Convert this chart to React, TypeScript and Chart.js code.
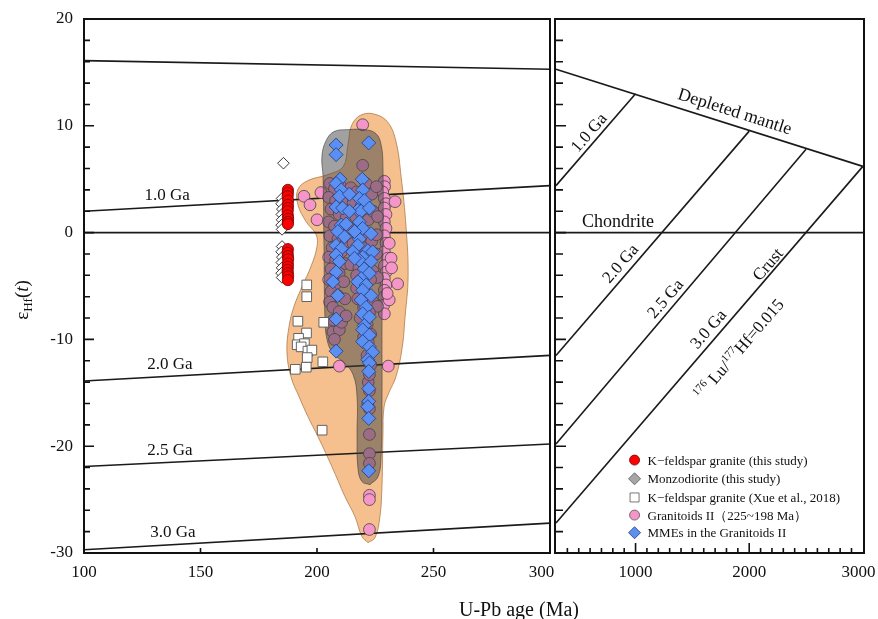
import React, { useEffect, useRef } from 'react';
import { Chart, registerables } from 'chart.js';

Chart.register(...registerables);

const SERIF = "'Liberation Serif', 'Times New Roman', serif";

// ---------- point data: [U-Pb age (Ma), εHf(t)] ----------
const kfsGraniteThisStudy: [number, number][] = [
  [187.5, 4.0], [187.5, 3.7], [187.4, 3.4], [187.6, 3.0], [187.5, 2.6], [187.5, 2.3], [187.4, 2.0],
  [187.5, 1.6], [187.6, 1.3], [187.5, 1.0], [187.5, 0.8],
  [187.5, -1.55], [187.4, -1.9], [187.5, -2.2], [187.6, -2.5], [187.5, -2.9], [187.5, -3.2],
  [187.4, -3.5], [187.5, -3.8], [187.6, -4.1], [187.5, -4.45],
];

const monzodioriteThisStudy: [number, number][] = [
  [185.6, 6.5], [185.0, 3.2], [184.8, 2.7], [185.1, 2.2], [184.9, 1.7], [185.0, 1.2], [184.8, 0.7],
  [185.0, 0.3], [185.0, -1.3], [184.8, -1.8], [185.1, -2.3], [184.9, -2.8], [185.0, -3.3],
  [184.8, -3.8], [185.0, -4.2],
];

const kfsGraniteXue2018: [number, number][] = [
  [195.6, -4.9], [195.6, -6.0], [191.8, -8.3], [202.9, -8.4], [195.5, -9.4], [192.1, -9.9],
  [191.5, -10.5], [194.6, -10.4], [193.2, -10.7], [196.1, -11.1], [197.8, -11.0], [195.8, -11.7],
  [202.5, -12.1], [195.4, -12.6], [190.7, -12.8], [202.2, -18.5],
];

const granitoidsII: [number, number][] = [
  [219.6, 10.1], [219.6, 6.3],
  [194.4, 3.4], [197.0, 2.6], [201.7, 3.75], [200.0, 1.2],
  [228.9, 4.8], [229.0, 4.3], [228.2, 3.8], [228.9, 3.2], [229.6, 2.7], [228.9, 2.3], [229.6, 1.7],
  [228.9, 1.0], [229.6, 0.4], [228.9, -0.3], [229.6, -1.0], [228.9, -1.8], [230.3, -2.4],
  [228.9, -3.1], [229.6, -3.7], [228.9, -4.3], [229.6, -4.9], [228.9, -5.4], [228.9, -6.0],
  [228.6, -6.8], [228.9, -7.6],
  [233.5, 2.9], [231.0, -1.0], [231.8, -2.4], [234.6, -4.8], [231.0, -6.3], [230.1, -5.7],
  [232.0, -3.3], [230.6, -12.5], [209.6, -12.5],
  [222.5, -24.6], [222.5, -25.0], [222.5, -27.8],
  [222.5, -18.9], [222.5, -20.7], [222.5, -21.6], [222.0, -14.0], [222.5, -13.3], [222.5, -16.5],
  [206.8, -9.3], [209.6, -9.1], [207.5, -10.0],
  [205.5, 4.6], [207.5, 4.1], [210.0, 4.4], [212.5, 3.6], [205.0, 3.3], [208.0, 3.0], [211.0, 2.8],
  [206.0, 2.2], [209.5, 1.7], [212.5, 1.4], [205.0, 1.0], [207.5, 0.6], [211.0, 0.3], [205.5, -0.3],
  [209.0, -0.6], [212.5, -0.9], [206.5, -1.4], [210.5, -1.8], [205.0, -2.3], [208.0, -2.6],
  [212.0, -2.9], [206.0, -3.4], [209.5, -3.8], [205.0, -4.4], [208.0, -4.8], [211.5, -4.6],
  [206.0, -5.5], [209.0, -5.9], [212.0, -6.2], [205.4, -6.5], [206.8, -7.0], [209.5, -7.4],
  [207.0, -8.2], [210.5, -8.4], [212.5, -7.8],
  [214.5, 4.2], [217.0, 3.8], [221.0, 4.6], [223.5, 3.6], [225.5, 4.3], [215.5, 2.8], [219.0, 2.5],
  [222.0, 1.2], [216.5, 1.5], [224.0, 2.0], [226.0, 1.5], [214.0, 0.4], [218.0, 0.3], [220.5, -0.4],
  [223.5, -0.8], [225.5, -0.2], [215.5, -1.0], [219.5, -1.4], [216.5, -2.1], [222.5, -2.3],
  [225.5, -2.0], [214.5, -3.0], [218.0, -3.3], [221.0, -3.0], [224.0, -3.6], [226.0, -4.2],
  [217.0, -4.0], [219.5, -4.6], [223.0, -4.4], [217.0, -5.2], [221.5, -5.8], [217.5, -6.2],
  [224.0, -6.5], [226.0, -6.9], [220.0, -7.0], [222.5, -7.5], [218.5, -8.0], [221.5, -8.6],
  [223.0, -9.5], [220.0, -9.8], [222.0, -10.3], [221.5, -11.5], [223.0, -12.4], [222.5, -14.8],
  [221.8, -16.0],
];

const mmesGranitoidsII: [number, number][] = [
  [208.2, 8.2], [208.2, 7.3], [222.2, 8.4], [219.4, 5.0], [209.9, 5.0], [208.2, 4.6], [210.4, 4.0],
  [209.6, 3.4], [208.2, 2.4], [211.0, 2.3], [219.6, 4.0], [218.2, 3.2], [220.3, 3.0], [217.5, 2.1],
  [218.9, 2.0], [222.5, 2.3], [210.4, 0.7], [208.9, 0.1], [208.2, -1.2], [210.4, -1.5], [208.2, -2.1],
  [209.6, -2.7], [208.2, -3.7], [206.8, -4.6], [208.9, -5.9], [208.2, -8.1], [218.2, 1.0],
  [219.6, 0.4], [223.2, -0.1], [218.2, -0.6], [217.5, -1.2], [221.8, -1.7], [223.9, -1.8],
  [219.6, -2.3], [218.2, -2.6], [223.2, -2.7], [220.3, -3.4], [222.5, -3.8], [218.9, -4.3],
  [217.5, -4.6], [221.1, -4.9], [219.6, -5.4], [223.2, -5.9], [218.9, -6.3], [221.1, -7.0],
  [219.6, -7.6], [222.5, -7.9], [220.3, -8.7], [215.3, -1.8], [212.5, 0.8], [216.1, 0.1],
  [219.6, -9.1], [222.5, -9.6], [219.6, -10.2], [222.5, -10.7], [208.2, -11.1], [223.9, -11.2],
  [221.8, -11.9], [222.5, -12.2], [222.2, -13.0], [222.2, -14.6], [222.2, -15.8], [221.8, -16.3],
  [222.2, -17.4], [222.2, -22.3], [211.8, -0.4], [213.9, 2.0], [216.1, -2.4], [213.9, 3.6],
];

// ---------- field envelopes (outline vertices) ----------
const granitoidsEnvelope: [number, number][] = [
  [221.9, -29.03], [219.3, -28.46], [216.3, -26.59], [212.0, -24.72], [206.4, -21.91], [200.4, -19.1],
  [196.1, -17.23], [192.3, -15.36], [188.8, -13.48], [187.1, -11.14], [188.0, -8.8], [190.1, -6.93],
  [193.6, -5.06], [197.4, -3.18], [200.0, -1.31], [199.6, -0.19], [195.3, 1.03], [191.8, 2.62],
  [191.8, 4.03], [196.1, 4.87], [204.7, 5.43], [211.2, 6.18], [213.3, 8.24], [215.0, 10.11],
  [219.3, 11.05], [225.3, 11.05], [230.5, 10.3], [233.9, 8.52], [236.1, 5.24], [238.2, 0.56],
  [239.1, -4.12], [237.8, -7.87], [236.5, -10.86], [233.9, -13.48], [230.9, -14.98], [228.8, -16.29],
  [228.3, -18.91], [227.9, -23.6], [227.0, -26.59], [224.9, -28.56], [221.9, -29.03],
];

const mmesEnvelope: [number, number][] = [
  [222.7, -23.6], [219.3, -23.31], [217.6, -22.1], [217.2, -19.1], [217.2, -15.36], [215.5, -13.3],
  [211.6, -12.17], [206.9, -11.33], [204.3, -10.02], [203.4, -7.87], [203.0, -1.31], [202.6, 5.24],
  [202.1, 7.12], [203.9, 8.61], [207.3, 9.46], [213.3, 9.64], [220.6, 9.64], [225.3, 9.27],
  [227.5, 8.24], [228.3, 6.18], [228.3, -1.31], [227.9, -8.8], [227.9, -15.36], [227.5, -20.97],
  [226.2, -22.85], [222.7, -23.6],
];

// ---------- Hf evolution lines ----------
const leftAges = [100, 300];
const depletedMantleLeft = [16.1, 15.3];
const chondriteLeft = [0, 0];
const crust10Left = [2.0, 4.4];
const crust20Left = [-13.9, -11.5];
const crust25Left = [-21.9, -19.8];
const crust30Left = [-29.7, -27.2];

const depletedMantleRight: [number, number][] = [[300, 15.3], [3000, 6.2]];
const chondriteRight: [number, number][] = [[300, 0], [3010, 0]];
const crust10Right: [number, number][] = [[300, 4.4], [1000, 13.0]];
const crust20Right: [number, number][] = [[300, -11.5], [2000, 9.5]];
const crust25Right: [number, number][] = [[300, -19.8], [2500, 7.8]];
const crust30Right: [number, number][] = [[300, -27.2], [3000, 6.2]];

// ---------- ticks ----------
const leftAgeTicks = [100, 150, 200, 250, 300];
const rightAgeTicks = [1000, 2000, 3000];
const epsTicks = [-30, -20, -10, 0, 10, 20];

// ---------- annotations ----------
const leftLineLabels = [
  { text: '1.0 Ga', x: 135.7, y: 3.6 },
  { text: '2.0 Ga', x: 136.9, y: -12.2 },
  { text: '2.5 Ga', x: 136.9, y: -20.3 },
  { text: '3.0 Ga', x: 138.2, y: -28.0 },
];

const legendItems = [
  { label: 'K\u2212feldspar granite (this study)', shape: 'circle', fill: '#ff0000', stroke: '#6a0000' },
  { label: 'Monzodiorite (this study)', shape: 'diamond', fill: '#a6a6a6', stroke: '#555555' },
  { label: 'K\u2212feldspar granite (Xue et al., 2018)', shape: 'square', fill: '#ffffff', stroke: '#555555' },
  { label: 'Granitoids II\uFF08225~198 Ma\uFF09', shape: 'circle', fill: '#f595c8', stroke: '#555555' },
  { label: 'MMEs in the Granitoids II', shape: 'diamond', fill: '#5b8ff2', stroke: '#1f3b7a' },
];

type Part = { t: string; size: number; dy?: number; italic?: boolean };

function drawParts(ctx: CanvasRenderingContext2D, parts: Part[], cx: number, cy: number, angleDeg: number, baseSize: number) {
  ctx.save();
  ctx.translate(cx, cy);
  ctx.rotate((angleDeg * Math.PI) / 180);
  ctx.textBaseline = 'alphabetic';
  ctx.textAlign = 'left';
  ctx.fillStyle = '#111';
  const fontOf = (p: Part) => `${p.italic ? 'italic ' : ''}${p.size}px ${SERIF}`;
  const widths = parts.map((p) => {
    ctx.font = fontOf(p);
    return ctx.measureText(p.t).width;
  });
  const total = widths.reduce((a, b) => a + b, 0);
  let xx = -total / 2;
  const base = baseSize * 0.34;
  parts.forEach((p, i) => {
    ctx.font = fontOf(p);
    ctx.fillText(p.t, xx, base + (p.dy || 0));
    xx += widths[i];
  });
  ctx.restore();
}

const toXY = (arr: [number, number][]) => arr.map(([x, y]) => ({ x, y }));
const pairXY = (xs: number[], ys: number[]) => xs.map((x, i) => ({ x, y: ys[i] }));

const framePlugin = {
  id: 'frame',
  afterDraw(chart: any) {
    const { ctx, chartArea, scales } = chart;
    const x = scales.x;
    const x2 = scales.x2;
    const y = scales.y;
    const top = chartArea.top;
    const bottom = chartArea.bottom;
    const lx0 = x.getPixelForValue(100);
    const lx1 = x.getPixelForValue(300);
    const rx0 = x2.getPixelForValue(300) - 1;
    const rx1 = chartArea.right;

    ctx.save();
    ctx.strokeStyle = '#111';
    ctx.lineWidth = 1.6;
    ctx.beginPath();
    for (let v = -28; v < 20; v += 2) {
      const py = y.getPixelForValue(v);
      const major = v % 10 === 0;
      ctx.moveTo(lx0, py);
      ctx.lineTo(lx0 + (major ? 10 : 6), py);
      ctx.moveTo(rx0, py);
      ctx.lineTo(rx0 + (major ? 11 : 8), py);
    }
    [150, 200, 250].forEach((v) => {
      const px = x.getPixelForValue(v);
      ctx.moveTo(px, bottom);
      ctx.lineTo(px, bottom - 5);
    });
    for (let v = 400; v <= 2900; v += 100) {
      const px = x2.getPixelForValue(v);
      ctx.moveTo(px, bottom);
      ctx.lineTo(px, bottom - (v % 1000 === 0 ? 10 : 5));
    }
    ctx.stroke();

    ctx.lineWidth = 2;
    ctx.strokeStyle = '#111';
    ctx.strokeRect(lx0, top, lx1 - lx0, bottom - top);
    ctx.strokeRect(rx0, top, rx1 - rx0, bottom - top);

    leftLineLabels.forEach((l) => {
      drawParts(ctx, [{ t: l.text, size: 17 }], x.getPixelForValue(l.x), y.getPixelForValue(l.y), 0, 17);
    });

    const crustAng = (Math.atan2(
      y.getPixelForValue(crust20Right[1][1]) - y.getPixelForValue(crust20Right[0][1]),
      x2.getPixelForValue(crust20Right[1][0]) - x2.getPixelForValue(crust20Right[0][0])
    ) * 180) / Math.PI;
    const dmAng = (Math.atan2(
      y.getPixelForValue(depletedMantleRight[1][1]) - y.getPixelForValue(depletedMantleRight[0][1]),
      x2.getPixelForValue(depletedMantleRight[1][0]) - x2.getPixelForValue(depletedMantleRight[0][0])
    ) * 180) / Math.PI;
    const R = (vx: number, vy: number) => [x2.getPixelForValue(vx), y.getPixelForValue(vy)];
    let p = R(1875, 11.4);
    drawParts(ctx, [{ t: 'Depleted mantle', size: 18 }], p[0], p[1], dmAng, 18);
    p = R(586, 9.4);
    drawParts(ctx, [{ t: '1.0 Ga', size: 17 }], p[0], p[1], crustAng, 17);
    p = R(845, 1.1);
    drawParts(ctx, [{ t: 'Chondrite', size: 18 }], p[0], p[1], 0, 18);
    p = R(863, -2.86);
    drawParts(ctx, [{ t: '2.0 Ga', size: 17 }], p[0], p[1], crustAng, 17);
    p = R(1259, -6.15);
    drawParts(ctx, [{ t: '2.5 Ga', size: 17 }], p[0], p[1], crustAng, 17);
    p = R(1637, -9.0);
    drawParts(ctx, [{ t: '3.0 Ga', size: 17 }], p[0], p[1], crustAng, 17);
    p = R(2161, -2.95);
    drawParts(ctx, [{ t: 'Crust', size: 17 }], p[0], p[1], crustAng, 17);
    p = R(1910, -10.9);
    drawParts(ctx, [
      { t: '176', size: 11, dy: -7 },
      { t: ' Lu/', size: 17 },
      { t: '177', size: 11, dy: -7 },
      { t: 'Hf=0.015', size: 17 },
    ], p[0], p[1], crustAng, 17);

    const legX = x2.getPixelForValue(1000) - 1;
    const legRows = [-21.3, -23.05, -24.8, -26.45, -28.1];
    legendItems.forEach((it, i) => {
      const cy = y.getPixelForValue(legRows[i]);
      ctx.beginPath();
      if (it.shape === 'circle') {
        ctx.arc(legX, cy, 5, 0, Math.PI * 2);
      } else if (it.shape === 'diamond') {
        ctx.moveTo(legX - 6, cy);
        ctx.lineTo(legX, cy - 6);
        ctx.lineTo(legX + 6, cy);
        ctx.lineTo(legX, cy + 6);
        ctx.closePath();
      } else {
        ctx.rect(legX - 4.5, cy - 4.5, 9, 9);
      }
      ctx.fillStyle = it.fill;
      ctx.fill();
      ctx.lineWidth = 0.8;
      ctx.strokeStyle = it.stroke;
      ctx.stroke();
      ctx.fillStyle = '#111';
      ctx.font = `13px ${SERIF}`;
      ctx.textAlign = 'left';
      ctx.textBaseline = 'middle';
      ctx.fillText(it.label, legX + 13, cy + 1);
    });

    drawParts(ctx, [{ t: 'U-Pb age (Ma)', size: 20 }], 519, 609, 0, 20);
    drawParts(ctx, [
      { t: '\u03B5', size: 19 },
      { t: 'Hf', size: 13, dy: 4 },
      { t: '(', size: 19 },
      { t: 't', size: 19, italic: true },
      { t: ')', size: 19 },
    ], 22, 300, -90, 19);
    ctx.restore();
  },
};

export default function App() {
  const canvasRef = useRef<HTMLCanvasElement | null>(null);

  useEffect(() => {
    if (!canvasRef.current) return;
    const lineDs = (data: { x: number; y: number }[], axis: string) => ({
      data,
      xAxisID: axis,
      showLine: true,
      pointRadius: 0,
      pointHoverRadius: 0,
      borderColor: '#1a1a1a',
      borderWidth: 1.6,
      fill: false,
      order: 6,
    });

    const tickFont = { family: SERIF, size: 17 };
    const chart = new Chart(canvasRef.current, {
      type: 'scatter',
      data: {
        datasets: [
          {
            label: 'K-feldspar granite (this study)',
            data: toXY(kfsGraniteThisStudy),
            pointStyle: 'circle',
            pointRadius: 5.6,
            backgroundColor: '#ff0000',
            borderColor: '#6a0000',
            borderWidth: 0.8,
            order: 0,
          },
          {
            label: 'Monzodiorite (this study)',
            data: toXY(monzodioriteThisStudy),
            pointStyle: 'rectRot',
            pointRadius: 5.8,
            backgroundColor: '#ffffff',
            borderColor: '#222222',
            borderWidth: 0.9,
            order: 1,
          },
          {
            label: 'K-feldspar granite (Xue et al., 2018)',
            data: toXY(kfsGraniteXue2018),
            pointStyle: 'rect',
            pointRadius: 6.8,
            backgroundColor: '#ffffff',
            borderColor: '#555555',
            borderWidth: 0.9,
            order: 2,
          },
          {
            label: 'MMEs in the Granitoids II',
            data: toXY(mmesGranitoidsII),
            pointStyle: 'rectRot',
            pointRadius: 7,
            backgroundColor: '#5b8ff2',
            borderColor: '#1f3b7a',
            borderWidth: 0.8,
            order: 3,
          },
          {
            label: 'MMEs field',
            data: toXY(mmesEnvelope),
            showLine: true,
            fill: 'shape',
            tension: 0.4,
            pointRadius: 0,
            pointHoverRadius: 0,
            backgroundColor: 'rgba(67,67,67,0.5)',
            borderColor: 'rgba(60,60,60,0.75)',
            borderWidth: 0.8,
            order: 4,
          },
          {
            label: 'Granitoids II (225~198 Ma)',
            data: toXY(granitoidsII),
            pointStyle: 'circle',
            pointRadius: 5.9,
            backgroundColor: '#f595c8',
            borderColor: '#444444',
            borderWidth: 0.8,
            order: 5,
          },
          lineDs(pairXY(leftAges, depletedMantleLeft), 'x'),
          lineDs(pairXY(leftAges, chondriteLeft), 'x'),
          lineDs(pairXY(leftAges, crust10Left), 'x'),
          lineDs(pairXY(leftAges, crust20Left), 'x'),
          lineDs(pairXY(leftAges, crust25Left), 'x'),
          lineDs(pairXY(leftAges, crust30Left), 'x'),
          lineDs(toXY(depletedMantleRight), 'x2'),
          lineDs(toXY(chondriteRight), 'x2'),
          lineDs(toXY(crust10Right), 'x2'),
          lineDs(toXY(crust20Right), 'x2'),
          lineDs(toXY(crust25Right), 'x2'),
          lineDs(toXY(crust30Right), 'x2'),
          {
            label: 'Granitoids field',
            data: toXY(granitoidsEnvelope),
            showLine: true,
            fill: 'shape',
            tension: 0.4,
            pointRadius: 0,
            pointHoverRadius: 0,
            backgroundColor: '#f5c08e',
            borderColor: '#b07a4a',
            borderWidth: 0.8,
            order: 7,
          },
        ] as any,
      },
      options: {
        animation: false,
        responsive: false,
        devicePixelRatio: 1,
        events: [],
        layout: { padding: { top: 19, right: 14, bottom: 0, left: 0 } },
        plugins: { legend: { display: false }, tooltip: { enabled: false } },
        scales: {
          x: {
            type: 'linear',
            position: 'bottom',
            stack: 'ages',
            stackWeight: 466,
            min: 100,
            max: 300,
            afterBuildTicks: (s: any) => { s.ticks = leftAgeTicks.map((v) => ({ value: v })); },
            ticks: {
              font: tickFont, color: '#111', padding: 9, maxRotation: 0, autoSkip: false,
              callback: (v: any) => (v === 300 ? '300\u2002\u2002' : String(v)),
            },
            grid: { display: false, drawTicks: false },
            border: { display: false },
            afterFit: (s: any) => { s.height = 66; s.paddingLeft = 0; s.paddingRight = 0; },
          },
          x2: {
            type: 'linear',
            position: 'bottom',
            stack: 'ages',
            stackWeight: 314,
            min: 247.2,
            max: 3010,
            afterBuildTicks: (s: any) => { s.ticks = rightAgeTicks.map((v) => ({ value: v })); },
            ticks: {
              font: tickFont, color: '#111', padding: 9, maxRotation: 0, autoSkip: false,
              callback: (v: any) => (v === 3000 ? '3000\u2002' : String(v)),
            },
            grid: { display: false, drawTicks: false },
            border: { display: false },
            afterFit: (s: any) => { s.height = 66; s.paddingLeft = 0; s.paddingRight = 0; },
          },
          y: {
            type: 'linear',
            min: -30,
            max: 20,
            afterBuildTicks: (s: any) => { s.ticks = epsTicks.map((v) => ({ value: v })); },
            ticks: { font: tickFont, color: '#111', padding: 11, callback: (v: any) => String(v) },
            grid: { display: false, drawTicks: false },
            border: { display: false },
            afterFit: (s: any) => { s.width = 84; s.paddingTop = 0; s.paddingBottom = 0; },
          },
        },
      } as any,
      plugins: [framePlugin],
    });
    return () => chart.destroy();
  }, []);

  return (
    <div style={{ position: 'absolute', left: 0, top: 0, width: 878, height: 619, background: '#ffffff' }}>
      <canvas ref={canvasRef} width={878} height={619} style={{ display: 'block' }} />
    </div>
  );
}
